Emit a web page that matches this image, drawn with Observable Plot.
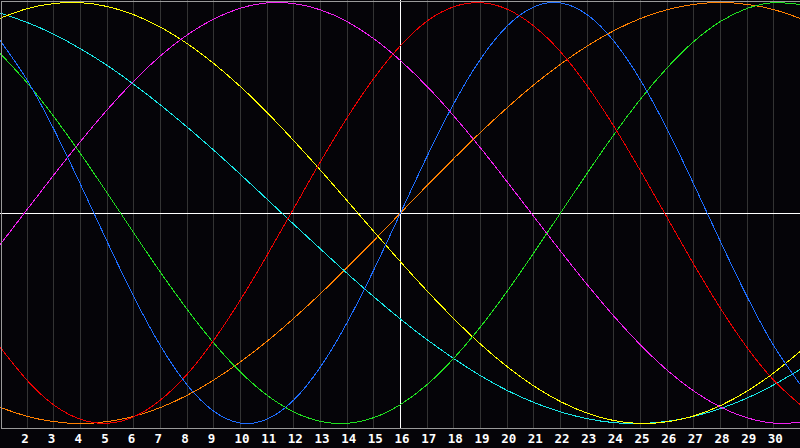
<!DOCTYPE html>
<html>
<head>
<meta charset="utf-8">
<script src="https://cdn.jsdelivr.net/npm/d3@7"></script>
<script src="https://cdn.jsdelivr.net/npm/@observablehq/plot@0.6"></script>
<style>
  html, body { margin: 0; padding: 0; background: #050408; overflow: hidden; }
  #chart svg { display: block; }
</style>
</head>
<body>
<div id="chart"></div>
<script>
// Days shown on the chart
const days = d3.range(1, 32);
const labelDays = d3.range(2, 31);
const today = 16;

// Series values, one per day (day 1 .. day 31)
const blue = [0.817,0.631,0.398,0.136,-0.136,-0.398,-0.631,-0.817,-0.942,-0.998,-0.979,-0.888,-0.731,-0.520,-0.270,0.000,0.270,0.520,0.731,0.888,0.979,0.998,0.942,0.817,0.631,0.398,0.136,-0.136,-0.398,-0.631,-0.817];
const red = [-0.640,-0.795,-0.912,-0.980,-0.999,-0.968,-0.888,-0.766,-0.604,-0.412,-0.200,0.022,0.244,0.453,0.640,0.795,0.912,0.980,0.999,0.968,0.888,0.766,0.604,0.412,0.200,-0.022,-0.244,-0.453,-0.640,-0.795,-0.912];
const green = [0.756,0.618,0.458,0.282,0.095,-0.095,-0.282,-0.458,-0.618,-0.756,-0.866,-0.945,-0.990,-0.999,-0.972,-0.910,-0.815,-0.690,-0.541,-0.372,-0.189,0.000,0.189,0.372,0.541,0.690,0.815,0.910,0.972,0.999,0.990];
const magenta = [-0.148,0.017,0.181,0.340,0.490,0.627,0.747,0.846,0.922,0.973,0.998,0.995,0.965,0.909,0.828,0.724,0.601,0.461,0.309,0.148,-0.017,-0.181,-0.340,-0.490,-0.627,-0.747,-0.846,-0.922,-0.973,-0.998,-0.995];
const yellow = [0.926,0.971,0.995,0.999,0.981,0.942,0.883,0.805,0.710,0.600,0.477,0.343,0.203,0.058,-0.088,-0.232,-0.371,-0.502,-0.623,-0.730,-0.822,-0.896,-0.951,-0.986,-1.000,-0.992,-0.964,-0.915,-0.846,-0.759,-0.656];
const orange = [-0.924,-0.966,-0.991,-1.000,-0.991,-0.966,-0.924,-0.866,-0.793,-0.707,-0.609,-0.500,-0.383,-0.259,-0.131,0.000,0.131,0.259,0.383,0.500,0.609,0.707,0.793,0.866,0.924,0.966,0.991,1.000,0.991,0.966,0.924];
const cyan = [0.949,0.905,0.849,0.780,0.701,0.611,0.513,0.408,0.298,0.183,0.065,-0.054,-0.171,-0.287,-0.398,-0.504,-0.602,-0.692,-0.773,-0.843,-0.900,-0.945,-0.977,-0.996,-1.000,-0.990,-0.966,-0.929,-0.879,-0.816,-0.742];

const seriesList = [
  {name: "orange", color: "#ff8000", values: orange},
  {name: "cyan", color: "#18e8e8", values: cyan},
  {name: "yellow", color: "#ffff00", values: yellow},
  {name: "magenta", color: "#f020f0", values: magenta},
  {name: "green", color: "#20e020", values: green},
  {name: "red", color: "#f00000", values: red},
  {name: "blue", color: "#1e6eff", values: blue}
];

const lineMarks = seriesList.map(s =>
  Plot.line(days.map((d, i) => ({day: d, v: s.values[i]})), {
    x: "day", y: "v", stroke: s.color, strokeWidth: 1,
    curve: "natural", shapeRendering: "crispEdges"
  })
);

const chart = Plot.plot({
  width: 800,
  height: 448,
  marginTop: 0,
  marginLeft: 0,
  marginRight: 0,
  marginBottom: 20,
  style: {background: "#050408", color: "white"},
  x: {domain: [1, 31], range: [0, 800]},
  y: {domain: [-1, 1], range: [423, 2]},
  marks: [
    Plot.ruleX(labelDays.filter(d => d !== today), {stroke: "#333333", strokeWidth: 1, shapeRendering: "crispEdges"}),
    Plot.ruleY([0], {stroke: "white", strokeWidth: 1, shapeRendering: "crispEdges"}),
    Plot.ruleX([today], {stroke: "white", strokeWidth: 1, shapeRendering: "crispEdges"}),
    ...lineMarks,
    Plot.frame({stroke: "#9a9a9a", strokeWidth: 1, inset: 0.5, shapeRendering: "crispEdges"}),
    Plot.axisX(labelDays, {
      tickSize: 0, tickPadding: 6, fill: "white",
      fontSize: 12.5, fontWeight: "bold", fontFamily: "DejaVu Sans Mono",
      textAnchor: "start", dx: -6,
      label: null
    }),
    Plot.axisY({ticks: [], label: null})
  ]
});

document.getElementById("chart").appendChild(chart);
</script>
</body>
</html>
